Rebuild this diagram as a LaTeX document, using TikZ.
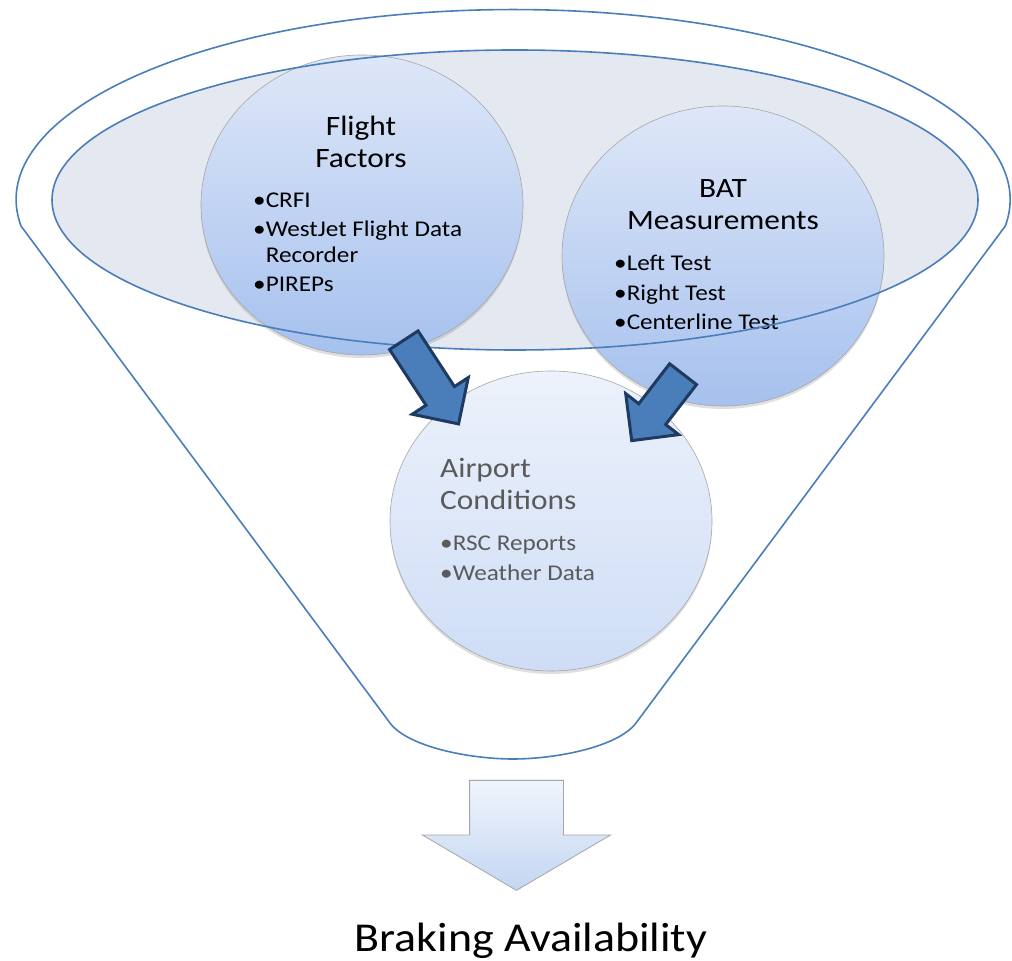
\documentclass[tikz,border=0pt]{standalone}
\usepackage{fontspec}
\setmainfont[FakeStretch=1.12]{Carlito}
\usetikzlibrary{positioning,shapes.geometric,shapes.arrows,shadows}

\definecolor{funblue}{HTML}{4A7EBB}
\definecolor{lipgray}{HTML}{E4E8F0}
\definecolor{navy}{HTML}{1F3A60}
\definecolor{txtgray}{HTML}{5A5A5A}
\definecolor{bubtop}{RGB}{222,231,248}
\definecolor{bubbot}{RGB}{166,193,238}
\definecolor{paletop}{RGB}{237,242,251}
\definecolor{palebot}{RGB}{206,221,246}
\definecolor{outtop}{RGB}{240,245,252}
\definecolor{outbot}{RGB}{195,214,242}

\begin{document}
\begin{tikzpicture}[
  x=1pt, y=1pt,
  fun/.style={draw=funblue, line width=1.6pt},
  lip/.style={fill=lipgray},
  bub/.style={ellipse, inner sep=0pt, minimum width=322pt, minimum height=300pt,
              draw=black!35, line width=0.6pt, top color=bubtop, bottom color=bubbot,
              drop shadow={shadow xshift=0pt, shadow yshift=-3pt, opacity=0.25}},
  pale/.style={bub, top color=paletop, bottom color=palebot},
  hd/.style={align=center, inner sep=0pt, anchor=base, font=\fontsize{28}{32.5}\selectfont},
  lst/.style={align=left, inner sep=0pt, anchor=base west, font=\fontsize{22.5}{26}\selectfont},
  barr/.style={single arrow, anchor=tail, fill=funblue, draw=navy, line width=3pt,
               inner xsep=0pt, inner ysep=15.5pt, single arrow head extend=16.5pt},
  oarr/.style={single arrow, anchor=tail, draw=black!35, line width=0.8pt,
               top color=outtop, bottom color=outbot,
               inner xsep=0pt, inner ysep=46.5pt, single arrow head extend=47pt, single arrow tip angle=119}
]
\fill[white] (0,0) rectangle (1012,961);
\useasboundingbox (0,0) rectangle (1012,961);

% funnel
\draw[fun] (21,735) arc[start angle=188, end angle=-8, x radius=497, y radius=190]
  -- (636,238) .. controls (618,214) and (556,202) .. (513,202)
  .. controls (470,202) and (408,214) .. (390,238) -- cycle;
\fill[lip] (515,761) ellipse[x radius=463, y radius=150];

% bubbles
\node[bub] (ff)  at (362,756) {};
\node[bub] (bat) at (723,705) {};
\node[pale] (ap) at (551,440) {};

% texts (base = last line)
\node[hd] (ffhd) at (361,793) {Flight\\Factors};
\node[lst] (ffls) at (253,669) {•CRFI\\[3pt]•WestJet Flight Data\\\phantom{•}Recorder\\[3pt]•PIREPs};
\node[hd] (bathd) at (723,731) {BAT\\Measurements};
\node[lst] (batls) at (614,631) {•Left Test\\[4pt]•Right Test\\[3pt]•Centerline Test};
\node[hd, align=left, anchor=base west, text=txtgray] (aphd) at (440,451) {Airport\\Conditions};
\node[lst, text=txtgray] (apls) at (440,380) {•RSC Reports\\[4pt]•Weather Data};

\draw[fun] (515,761) ellipse[x radius=463, y radius=150];

% arrows
\node[barr, rotate=-56.8, minimum height=100pt] (ffarr) at (403,622) {};
\node[barr, rotate=-127.7, minimum height=84pt] (batarr) at (684,588) {};

\node[oarr, rotate=-90, minimum height=110pt] (outarr) at (516.5,181) {};
\node[anchor=base, inner sep=0pt, font=\fontsize{41}{48}\selectfont] (brk) at (531,9) {Braking Availability};
\end{tikzpicture}
\end{document}
